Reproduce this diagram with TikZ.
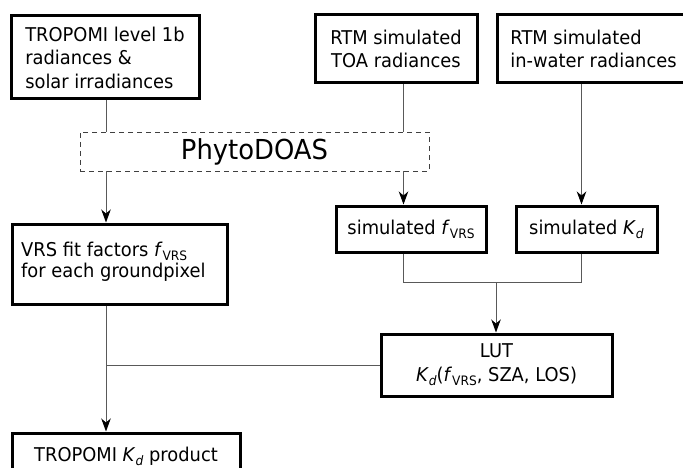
\documentclass[tikz,border=0pt]{standalone}
\usepackage{fontspec}
\setmainfont{DejaVu Sans}[FakeStretch=0.94]
\usetikzlibrary{arrows.meta}
\newcommand{\lsub}[1]{\raisebox{-0.22em}{\fontsize{13}{13}\selectfont #1}}
\newcommand{\fvrs}{\textit{f}\lsub{VRS}}
\newcommand{\kd}{\textit{K}\lsub{\textit{d}}}
\begin{document}
\begin{tikzpicture}[x=1pt,y=-1pt,
  box/.style={draw=black, line width=3pt, inner sep=0pt, fill=white,
    align=center, font=\fontsize{19}{23.5}\selectfont},
  boxl/.style={box, align=left},
  txt/.style={inner sep=0pt, align=left, font=\fontsize{19}{21.5}\selectfont},
  dbox/.style={draw=black!75, line width=0.9pt, dash pattern=on 5pt off 4pt,
    inner sep=0pt, font=\fontsize{27.5}{30}\selectfont},
  conn/.style={draw=black!65, line width=1pt},
  arr/.style={conn, -{Stealth[length=13pt,width=9.5pt,inset=4pt,color=black]}},
]
\useasboundingbox (0,0) rectangle (683,468);
% boxes
\node[boxl, minimum width=188, minimum height=83] (a) at (105,57.5)
  {TROPOMI level 1b\\radiances \&\\solar irradiances};
\node[box, minimum width=162, minimum height=68] (b) at (396,49)
  {RTM simulated\\TOA radiances};
\node[boxl, minimum width=193, minimum height=68] (c) at (593.5,49)
  {RTM simulated\\in-water radiances};
\node[dbox, minimum width=349, minimum height=39] (p) at (254.5,151.5) {PhytoDOAS};
\node[box, minimum width=150, minimum height=46] (f) at (411,229)
  {simulated \fvrs};
\node[box, minimum width=141, minimum height=46] (k) at (586.5,229)
  {simulated \kd};
\node[box, minimum width=215, minimum height=80] (v) at (119.5,264) {};
\node[txt, anchor=north west] (vt) at (21,241.5)
  {VRS fit factors \fvrs\\for each groundpixel};
\node[box, minimum width=231, minimum height=62] (l) at (496.5,365)
  {LUT\\\kd(\fvrs, SZA, LOS)};
\node[box, minimum width=228, minimum height=47] (t) at (126,456.5)
  {TROPOMI \kd\ product};
% connector x positions
\coordinate (ax) at (106,0);
\coordinate (bx) at (403.5,0);
\coordinate (cx) at (581.5,0);
\coordinate (m) at (496,282);
% connectors
\draw[conn] (a.south -| ax) -- (p.north -| ax);
\draw[arr] (p.south -| ax) -- (v.north -| ax);
\draw[conn] (b.south -| bx) -- (p.north -| bx);
\draw[arr] (p.south -| bx) -- (f.north -| bx);
\draw[arr] (c.south -| cx) -- (k.north -| cx);
\draw[conn] (f.south -| bx) -- (bx |- m) -- (cx |- m) -- (k.south -| cx);
\draw[arr] (m) -- (l.north -| m);
\draw[conn] (l.west) -- (l.west -| ax);
\draw[arr] (v.south -| ax) -- (t.north -| ax);
\end{tikzpicture}
\end{document}
